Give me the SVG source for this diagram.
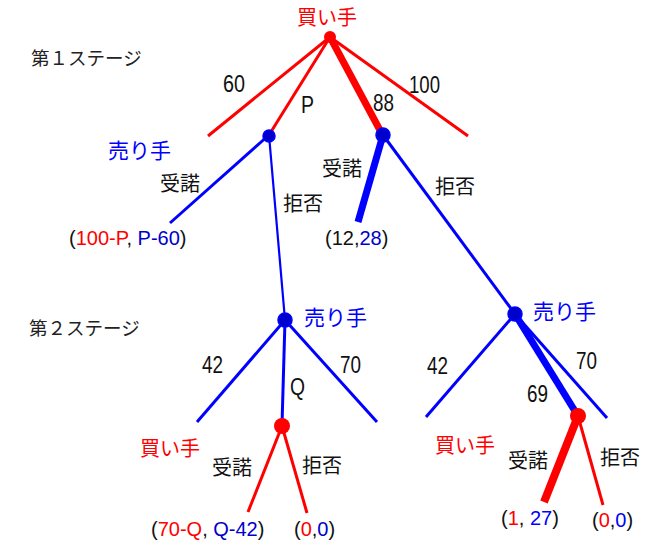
<svg xmlns="http://www.w3.org/2000/svg" width="648" height="541" viewBox="0 0 648 541">
<style>
.bg{fill:#ffffff}
.r{stroke:#ff0000;stroke-width:3;stroke-linecap:butt;fill:none}
.b{stroke:#0000ff;stroke-width:3;stroke-linecap:butt;fill:none}
.thin{stroke-width:2.2}
.thick{stroke-width:7}
.rn{fill:#ff0000}
.bn{fill:#0000cc;stroke:#0000ff;stroke-width:1.5}
.jp{font-family:"Noto Sans CJK JP","Noto Sans",sans-serif;font-size:20px;fill:#111111}
.stage{font-family:"Noto Sans CJK JP","Noto Sans",sans-serif;font-size:18.5px;font-weight:normal;fill:#222222}
.num{font-family:"Liberation Sans",Arial,sans-serif;font-size:23px;fill:#111111}
.pay{font-family:"Liberation Sans",Arial,sans-serif;font-size:20px;fill:#111111}
.red{fill:#ff0000}
.blue{fill:#0000ff}
.dblue{fill:#0000cc}
</style>
<rect class="bg" x="0" y="0" width="648" height="541"/>
<g id="connectors">
  <line class="r" x1="330" y1="37" x2="208" y2="136"/>
  <line class="r" x1="330" y1="37" x2="269" y2="135"/>
  <line class="r thick" x1="330" y1="37" x2="382" y2="134"/>
  <line class="r" x1="330" y1="37" x2="468" y2="136"/>
  <line class="b" x1="269" y1="135" x2="170" y2="223"/>
  <line class="b thin" x1="269" y1="135" x2="285" y2="320"/>
  <line class="b thick" x1="383" y1="135" x2="358" y2="222"/>
  <line class="b" x1="383" y1="135" x2="515" y2="314"/>
  <line class="b" x1="285" y1="320" x2="197" y2="422"/>
  <line class="b" x1="285" y1="320" x2="282" y2="425"/>
  <line class="b" x1="285" y1="320" x2="377" y2="422"/>
  <line class="b" x1="515" y1="314" x2="426" y2="417"/>
  <line class="b" x1="515" y1="314" x2="607" y2="418"/>
  <line class="b thick" x1="515" y1="314" x2="578" y2="416"/>
  <line class="r" x1="282" y1="426" x2="248" y2="512"/>
  <line class="r" x1="282" y1="426" x2="307" y2="513"/>
  <line class="r thick" style="stroke-width:8" x1="578" y1="416" x2="544" y2="502"/>
  <line class="r" x1="578" y1="416" x2="603" y2="505"/>
</g>
<g id="stage-labels">
  <text class="stage" x="31" y="65">第１ステージ</text>
  <text class="stage" x="29" y="335">第２ステージ</text>
</g>
<g id="root-buyer">
  <circle class="rn" cx="330" cy="37" r="6"/>
  <text class="jp red" x="327" y="25" text-anchor="middle">買い手</text>
</g>
<g id="edge-labels-1">
  <text class="num" x="223" y="92" textLength="22" lengthAdjust="spacingAndGlyphs">60</text>
  <text class="num" x="301" y="113" textLength="13" lengthAdjust="spacingAndGlyphs">P</text>
  <text class="num" x="373" y="111" textLength="21" lengthAdjust="spacingAndGlyphs">88</text>
  <text class="num" x="409" y="93" textLength="31" lengthAdjust="spacingAndGlyphs">100</text>
</g>
<g id="seller-P">
  <circle class="bn" cx="269" cy="136" r="6"/>
  <text class="jp blue" x="108" y="158" style="font-size:21px">売り手</text>
  <text class="jp" x="160" y="191">受諾</text>
  <text class="jp" x="283" y="211">拒否</text>
  <text class="pay" x="69" y="245">(<tspan class="red">100-P</tspan>, <tspan class="dblue">P-60</tspan>)</text>
</g>
<g id="seller-88">
  <circle class="bn" cx="383" cy="135" r="7"/>
  <text class="jp" x="322" y="176">受諾</text>
  <text class="jp" x="435" y="194">拒否</text>
  <text class="pay" x="325" y="245">(12,<tspan class="dblue">28</tspan>)</text>
</g>
<g id="seller-stage2-left">
  <circle class="bn" cx="285" cy="320" r="7"/>
  <text class="jp blue" x="304" y="325" style="font-size:21px">売り手</text>
  <text class="num" x="202" y="373" textLength="21" lengthAdjust="spacingAndGlyphs">42</text>
  <text class="num" x="290" y="395" textLength="15" lengthAdjust="spacingAndGlyphs">Q</text>
  <text class="num" x="340" y="373" textLength="21" lengthAdjust="spacingAndGlyphs">70</text>
</g>
<g id="buyer-stage2-left">
  <circle class="rn" cx="282" cy="426" r="8"/>
  <text class="jp red" x="140" y="456">買い手</text>
  <text class="jp" x="212" y="475">受諾</text>
  <text class="jp" x="302" y="473">拒否</text>
  <text class="pay" x="151" y="536">(<tspan class="red">70-Q</tspan>, <tspan class="dblue">Q-42</tspan>)</text>
  <text class="pay" x="294" y="536">(<tspan class="red">0</tspan>,<tspan class="dblue">0</tspan>)</text>
</g>
<g id="seller-stage2-right">
  <circle class="bn" cx="515" cy="314" r="7"/>
  <text class="jp blue" x="533" y="319" style="font-size:21px">売り手</text>
  <text class="num" x="427" y="374" textLength="21" lengthAdjust="spacingAndGlyphs">42</text>
  <text class="num" x="527" y="402" textLength="21" lengthAdjust="spacingAndGlyphs">69</text>
  <text class="num" x="576" y="369" textLength="21" lengthAdjust="spacingAndGlyphs">70</text>
</g>
<g id="buyer-stage2-right">
  <circle class="rn" cx="578" cy="416" r="8"/>
  <text class="jp red" x="435" y="453">買い手</text>
  <text class="jp" x="508" y="468">受諾</text>
  <text class="jp" x="600" y="465">拒否</text>
  <text class="pay" x="501" y="525">(<tspan class="red">1</tspan>, <tspan class="blue">27</tspan>)</text>
  <text class="pay" x="592" y="527">(<tspan class="red">0</tspan>,<tspan class="blue">0</tspan>)</text>
</g>
</svg>
